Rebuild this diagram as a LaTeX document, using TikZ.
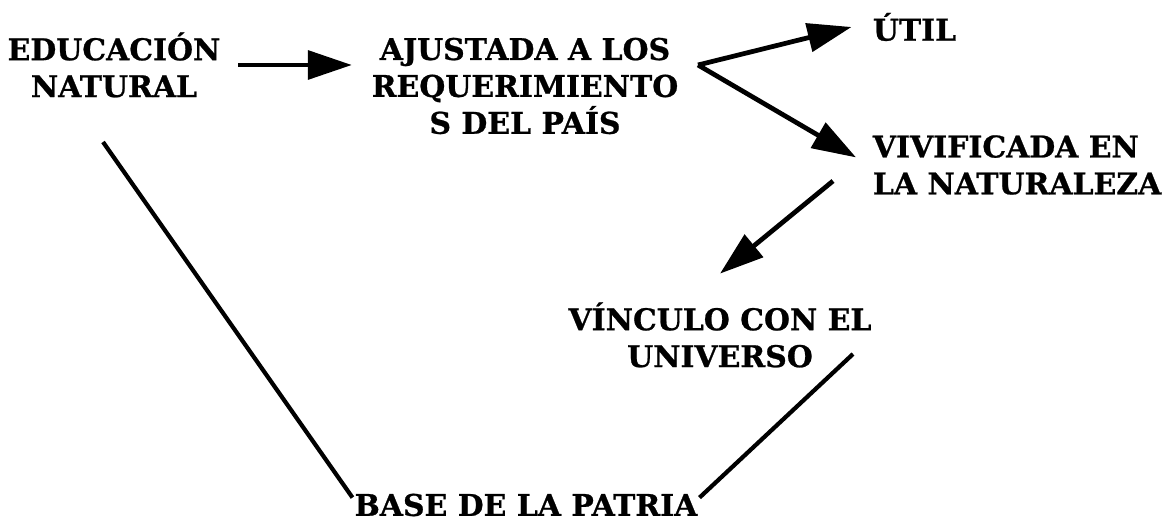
\documentclass[tikz,border=0pt]{standalone}
\usepackage{fontspec}
\setmainfont{DejaVu Serif}[BoldFeatures={FakeBold=0.8}]
\usetikzlibrary{arrows.meta}

\begin{document}
\begin{tikzpicture}[x=0.02cm, y=-0.02cm,
  main node/.style={font=\bfseries\fontsize{17}{21}\selectfont, align=center, inner sep=2pt},
  arrow line/.style={line width=2.7pt, -{Triangle[length=0.88cm,width=0.57cm]}},
  plain line/.style={line width=2.4pt}]

\useasboundingbox (0,0) rectangle (1165,523);

\node[main node] (educ) at (114,65) {EDUCACIÓN\\NATURAL};
\node[main node] (ajus) at (525,86) {AJUSTADA A LOS\\REQUERIMIENTO\\S DEL PAÍS};
\node[main node, anchor=west] (util) at (869,27) {ÚTIL};
\node[main node, anchor=west, align=left] (vivi) at (869,165) {VIVIFICADA EN\\LA NATURALEZA};
\node[main node] (vinc) at (720,335) {VÍNCULO CON EL\\UNIVERSO};
\node[main node, inner sep=1pt] (base) at (526,505) {BASE DE LA PATRIA};

\coordinate (fork) at (698,65);
\coordinate (vtail) at (833,181);
\coordinate (ltail) at (103,142);
\coordinate (rtail) at (853,354);

\draw[arrow line, shorten <=0.28cm, shorten >=0.32cm] (educ.east) -- (educ.east -| ajus.west);
\draw[arrow line] (util.west) ++(-0.35cm,0) coordinate (utip)
  (fork) -- (utip);
\draw[arrow line, shorten >=0.3cm] (fork) -- (vivi.west);
\draw[arrow line] (vtail) -- ([yshift=0.5cm]vinc.north);

\draw[plain line] (ltail) -- ([yshift=-0.12cm]base.north west);
\draw[plain line] (rtail) -- ([yshift=-0.12cm]base.north east);

\end{tikzpicture}
\end{document}
